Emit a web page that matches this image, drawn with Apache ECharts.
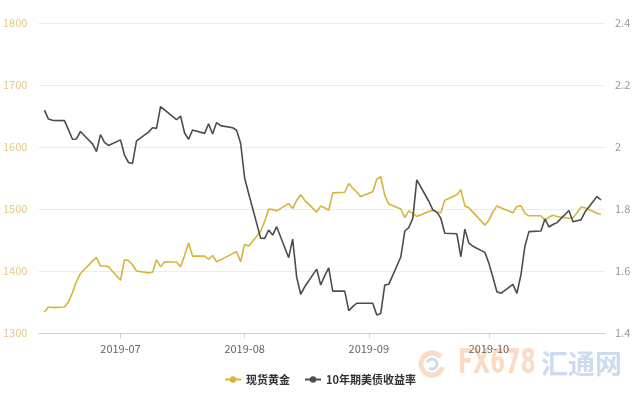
<!DOCTYPE html>
<html>
<head>
<meta charset="utf-8">
<script src="https://cdn.jsdelivr.net/npm/echarts@6/dist/echarts.min.js"></script>
<style>html,body{margin:0;padding:0;background:#fff;}#c{width:640px;height:400px;}</style>
</head>
<body>
<div id="c"></div>
<script>
const dates = [
'2019-06-12','2019-06-13','2019-06-14','2019-06-17','2019-06-18','2019-06-19','2019-06-20','2019-06-21','2019-06-24','2019-06-25','2019-06-26','2019-06-27','2019-06-28',
'2019-07-01','2019-07-02','2019-07-03','2019-07-04','2019-07-05','2019-07-08','2019-07-09','2019-07-10','2019-07-11','2019-07-12','2019-07-15','2019-07-16','2019-07-17','2019-07-18','2019-07-19','2019-07-22','2019-07-23','2019-07-24','2019-07-25','2019-07-26','2019-07-29','2019-07-30','2019-07-31',
'2019-08-01','2019-08-02','2019-08-05','2019-08-06','2019-08-07','2019-08-08','2019-08-09','2019-08-12','2019-08-13','2019-08-14','2019-08-15','2019-08-16','2019-08-19','2019-08-20','2019-08-21','2019-08-22','2019-08-23','2019-08-26','2019-08-27','2019-08-28','2019-08-29','2019-08-30',
'2019-09-02','2019-09-03','2019-09-04','2019-09-05','2019-09-06','2019-09-09','2019-09-10','2019-09-11','2019-09-12','2019-09-13','2019-09-16','2019-09-17','2019-09-18','2019-09-19','2019-09-20','2019-09-23','2019-09-24','2019-09-25','2019-09-26','2019-09-27','2019-09-30',
'2019-10-01','2019-10-02','2019-10-03','2019-10-04','2019-10-07','2019-10-08','2019-10-09','2019-10-10','2019-10-11','2019-10-14','2019-10-15','2019-10-16','2019-10-17','2019-10-18','2019-10-21','2019-10-22','2019-10-23','2019-10-24','2019-10-25','2019-10-28','2019-10-29'
];
const goldValues = [
1334,1342,1341,1342,1350,1365,1383,1396,1416,1422,1408,1408,1407,
1385,1418,1417,1410,1400,1397,1398,1418,1407,1415,1414,1407,1425,1445,1424,1424,1419,1425,1415,1418,1428,1431,1415,
1443,1440,1464,1480,1500,1499,1497,1509,1501,1514,1523,1514,1495,1505,1502,1498,1526,1527,1541,1534,1527,1520,
1528,1548,1552,1522,1508,1500,1486,1497,1493,1488,1496,1498,1495,1494,1514,1523,1531,1505,1502,1495,1474,
1482,1495,1505,1502,1494,1504,1505,1493,1489,1489,1482,1487,1490,1488,1485,1486,1494,1503,1502,1493,1491
];
const yieldValues = [
2.119,2.090,2.086,2.085,2.056,2.025,2.026,2.050,2.010,1.985,2.040,2.015,2.005,
2.023,1.974,1.950,1.947,2.020,2.048,2.062,2.060,2.130,2.120,2.088,2.100,2.045,2.025,2.055,2.044,2.075,2.042,2.079,2.069,2.062,2.054,2.012,
1.900,1.850,1.706,1.705,1.732,1.716,1.743,1.643,1.703,1.580,1.525,1.549,1.606,1.555,1.585,1.610,1.535,1.535,1.472,1.485,1.496,1.496,
1.496,1.458,1.463,1.555,1.557,1.645,1.729,1.740,1.770,1.894,1.825,1.797,1.790,1.770,1.722,1.720,1.646,1.735,1.690,1.680,1.660,
1.625,1.580,1.533,1.528,1.557,1.528,1.587,1.680,1.727,1.729,1.768,1.742,1.750,1.756,1.795,1.759,1.762,1.765,1.790,1.840,1.829
];
const seriesNames = ['现货黄金', '10年期美债收益率'];
const leftTicks = {min: 1300, max: 1800, interval: 100};
const rightTicks = {min: 1.4, max: 2.4, interval: 0.2};

const chart = echarts.init(document.getElementById('c'), null, {renderer: 'canvas'});
const FONT = '"Noto Sans CJK SC", "Noto Sans", sans-serif';
chart.setOption({
  animation: false,
  backgroundColor: '#fff',
  textStyle: {fontFamily: FONT},
  grid: {left: 35, right: 35, top: 23, bottom: 67, containLabel: false},
  legend: {
    data: seriesNames,
    left: 'center', top: 369,
    itemWidth: 16, itemHeight: 8, itemGap: 14,
    textStyle: {color: '#333', fontSize: 11, fontWeight: 'bold', fontFamily: FONT}
  },
  xAxis: {
    type: 'time',
    min: '2019-06-10 12:00:00',
    max: '2019-10-30 00:00:00',
    minInterval: 28 * 86400000,
    splitLine: {show: false},
    axisLine: {lineStyle: {color: '#c6d4e2'}},
    axisTick: {show: true, length: 5, lineStyle: {color: '#c6d4e2'}},
    axisLabel: {color: '#666', fontSize: 11, margin: 10, formatter: '{yyyy}-{MM}', fontFamily: FONT}
  },
  yAxis: [
    {
      type: 'value', position: 'left',
      min: leftTicks.min, max: leftTicks.max, interval: leftTicks.interval,
      axisLine: {show: false}, axisTick: {show: false},
      axisLabel: {color: '#e3c98a', fontSize: 11, margin: 11, fontFamily: FONT, formatter: v => String(v)},
      splitLine: {lineStyle: {color: '#ececec'}}
    },
    {
      type: 'value', position: 'right',
      min: rightTicks.min, max: rightTicks.max, interval: rightTicks.interval,
      axisLine: {show: false}, axisTick: {show: false},
      axisLabel: {color: '#999', fontSize: 11, margin: 10, fontFamily: FONT, formatter: v => String(+v.toFixed(1))},
      splitLine: {show: false}
    }
  ],
  series: [
    {
      name: seriesNames[0], type: 'line', yAxisIndex: 0,
      data: dates.map((d, i) => [d, goldValues[i]]),
      showSymbol: false, symbol: 'circle', symbolSize: 6,
      itemStyle: {color: '#d8b43a'},
      lineStyle: {color: '#d8b43a', width: 1.6}
    },
    {
      name: seriesNames[1], type: 'line', yAxisIndex: 1,
      data: dates.map((d, i) => [d, yieldValues[i]]),
      showSymbol: false, symbol: 'circle', symbolSize: 6,
      itemStyle: {color: '#4d4d4d'},
      lineStyle: {color: '#4d4d4d', width: 1.6}
    }
  ],
  graphic: [
    {type: 'text', x: 458, y: 364, scaleX: 0.74, silent: true,
     style: {text: 'FX678', fill: 'rgba(246,160,100,0.38)', font: 'bold 33px "DejaVu Sans Condensed", sans-serif', align: 'left', verticalAlign: 'middle'}},
    {type: 'text', x: 541, y: 364, silent: true,
     style: {text: '汇通网', fill: 'rgba(120,160,215,0.38)', font: 'bold 27px "Noto Sans CJK SC", sans-serif', align: 'left', verticalAlign: 'middle'}},
    {type: 'arc', silent: true, shape: {cx: 432, cy: 364, r: 11, startAngle: 0.3, endAngle: 5.6}, style: {fill: 'none', stroke: 'rgba(246,160,100,0.38)', lineWidth: 5}},
    {type: 'arc', silent: true, shape: {cx: 432, cy: 364, r: 5, startAngle: 3.5, endAngle: 8.5}, style: {fill: 'none', stroke: 'rgba(120,160,215,0.38)', lineWidth: 3}}
  ]
});
</script>
</body>
</html>
